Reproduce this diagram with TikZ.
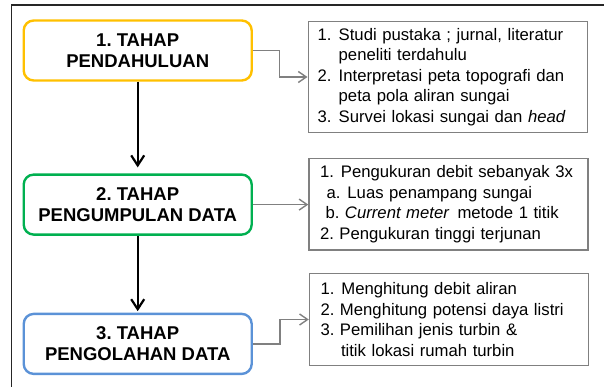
\documentclass[tikz,border=0pt]{standalone}
\usepackage{fontspec}
\setmainfont{Liberation Sans}
\usetikzlibrary{arrows.meta}
\definecolor{stageyellow}{RGB}{255,192,0}
\definecolor{stagegreen}{RGB}{0,176,80}
\definecolor{stageblue}{RGB}{91,146,215}
\definecolor{linkgray}{RGB}{128,128,128}
\newcommand{\numitem}[2]{\makebox[21pt][l]{#1}#2}
\frenchspacing

\begin{document}
\begin{tikzpicture}[x=1pt, y=-1pt,
        stage/.style={rectangle, rounded corners=10pt, draw, line width=2.4pt,
          minimum width=228pt, minimum height=60pt, inner sep=0pt, align=center,
          font=\fontsize{18.5}{21}\selectfont\bfseries},
        detail/.style={rectangle, draw=linkgray, line width=1.4pt, align=left,
          text width=260pt, inner xsep=9.5pt, inner ysep=0pt,
          font=\fontsize{16.7}{20.5}\selectfont},
        flow/.style={-{Straight Barb[length=10pt,width=13pt]}, line width=2.2pt},
        link/.style={-{Straight Barb[length=8pt,width=11pt]}, draw=linkgray, line width=1.4pt}
      ]
      \useasboundingbox (0,0) rectangle (604,387);
      \draw[line width=1.3pt, black!85] (11.7,387) |- (604,5);

      \node[stage, draw=stageyellow] (pendahuluan) at (137.7,50.5) {1. TAHAP\\ PENDAHULUAN};
      \node[stage, draw=stagegreen] (pengumpulan) at (137.7,204.6) {2. TAHAP\\ PENGUMPULAN DATA};
      \node[stage, draw=stageblue] (pengolahan) at (137.7,343.9) {3. TAHAP\\ PENGOLAHAN DATA};

      \node[detail, minimum height=111pt] (pendahuluan-isi) at (447.7,77) {%
        \numitem{1.}{Studi pustaka ; jurnal, literatur}\\
        \numitem{}{peneliti terdahulu}\\
        \numitem{2.}{Interpretasi peta topografi dan}\\
        \numitem{}{peta pola aliran sungai}\\
        \numitem{3.}{Survei lokasi sungai dan \textit{head}}};
      \node[detail, minimum height=91pt] (pengumpulan-isi) at (448.5,204.3) {%
        \hspace*{1.5pt}1.\hspace{7pt}Pengukuran debit sebanyak 3x\\
        \hspace*{8pt}a.\hspace{7pt}Luas penampang sungai\\
        \hspace*{7pt}b. \textit{Current meter}\hspace{8pt}metode 1 titik\\
        \hspace*{1.5pt}2. Pengukuran tinggi terjunan};
      \node[detail, minimum height=92pt] (pengolahan-isi) at (449,319.5) {%
        \hspace*{1.5pt}1.\hspace{7pt}Menghitung debit aliran\\
        \hspace*{1.5pt}2. Menghitung potensi daya listri\\
        \hspace*{1.5pt}3. Pemilihan jenis turbin \&\\
        \hspace*{22pt}titik lokasi rumah turbin};

      \draw[flow, shorten >=6pt] (pendahuluan) -- (pengumpulan);
      \draw[flow, shorten >=1.5pt] (pengumpulan) -- (pengolahan);

      \draw[link] (pendahuluan.east) -- ++(26.5,0) |- (pendahuluan-isi.west);
      \draw[link] (pengumpulan.east) -- (pengumpulan.east -| pengumpulan-isi.west);
      \draw[link] (pengolahan.east) -- ++(27,0) |- (pengolahan-isi.west);
\end{tikzpicture}
\end{document}
